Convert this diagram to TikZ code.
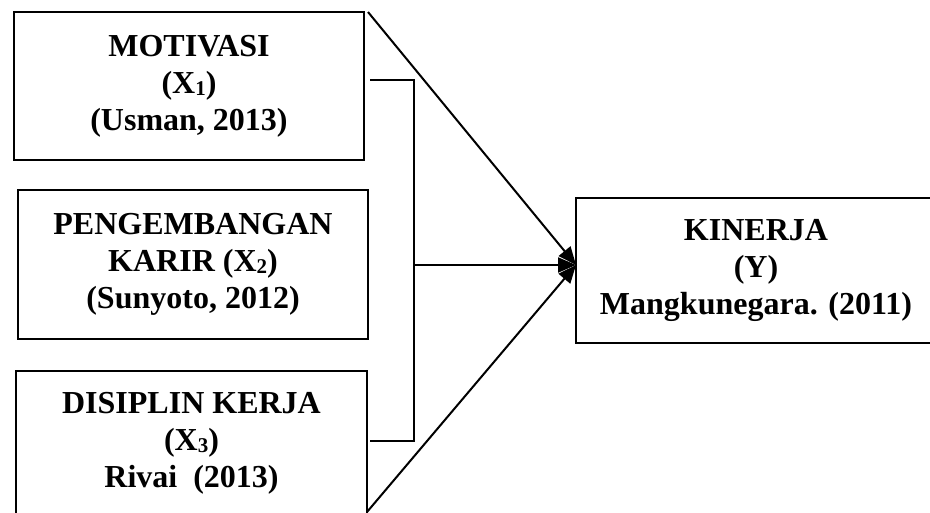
\documentclass[tikz,border=0pt]{standalone}
\usepackage{fontspec}
\setmainfont{Liberation Serif}
\usetikzlibrary{arrows.meta}
\newcommand{\varidx}[1]{\raisebox{-0.15ex}{\fontsize{21}{21}\selectfont #1}}
\tikzset{
  varbox/.style={draw, line width=2pt, align=center, inner sep=0pt,
    font=\bfseries\fontsize{32}{37}\selectfont},
  kline/.style={line width=2pt},
  karrow/.style={-{Triangle[length=18pt,width=15pt]}, line width=2pt}
}

\begin{document}
\begin{tikzpicture}[x=1pt, y=-1pt]
    \useasboundingbox (0,0) rectangle (930,512);
    \clip (0,0) rectangle (930,512);
    \node[varbox, minimum width=350pt, minimum height=148pt] (mot) at (189,86)
      {MOTIVASI\\(X\varidx{1})\\(Usman, 2013)};
    \node[varbox, minimum width=350pt, minimum height=149pt] (peng) at (193,264.5)
      {PENGEMBANGAN\\KARIR (X\varidx{2})\\(Sunyoto, 2012)};
    \node[varbox, minimum width=351pt, minimum height=145pt] (dis) at (191.5,443.5)
      {DISIPLIN KERJA\\(X\varidx{3})\\Rivai~~(2013)};
    \node[varbox, minimum width=360pt, minimum height=145pt] (kin) at (756,270.5)
      {KINERJA\\(Y)\\Mangkunegara. (2011)};
    \coordinate (top) at (368,12);
    \coordinate (bot) at (367,512);
    \coordinate (b1) at (370,80);
    \coordinate (b2) at (414,80);
    \coordinate (b3) at (414,441);
    \coordinate (b4) at (370,441);
    \coordinate (bm) at (414,265);
    \coordinate (tip) at (576,265);
    \draw[kline] (b1) -- (b2) -- (b3) -- (b4);
    \draw[karrow] (top) -- (tip);
    \draw[karrow] (bm) -- (tip);
    \draw[karrow] (bot) -- (tip);
  \end{tikzpicture}
\end{document}
